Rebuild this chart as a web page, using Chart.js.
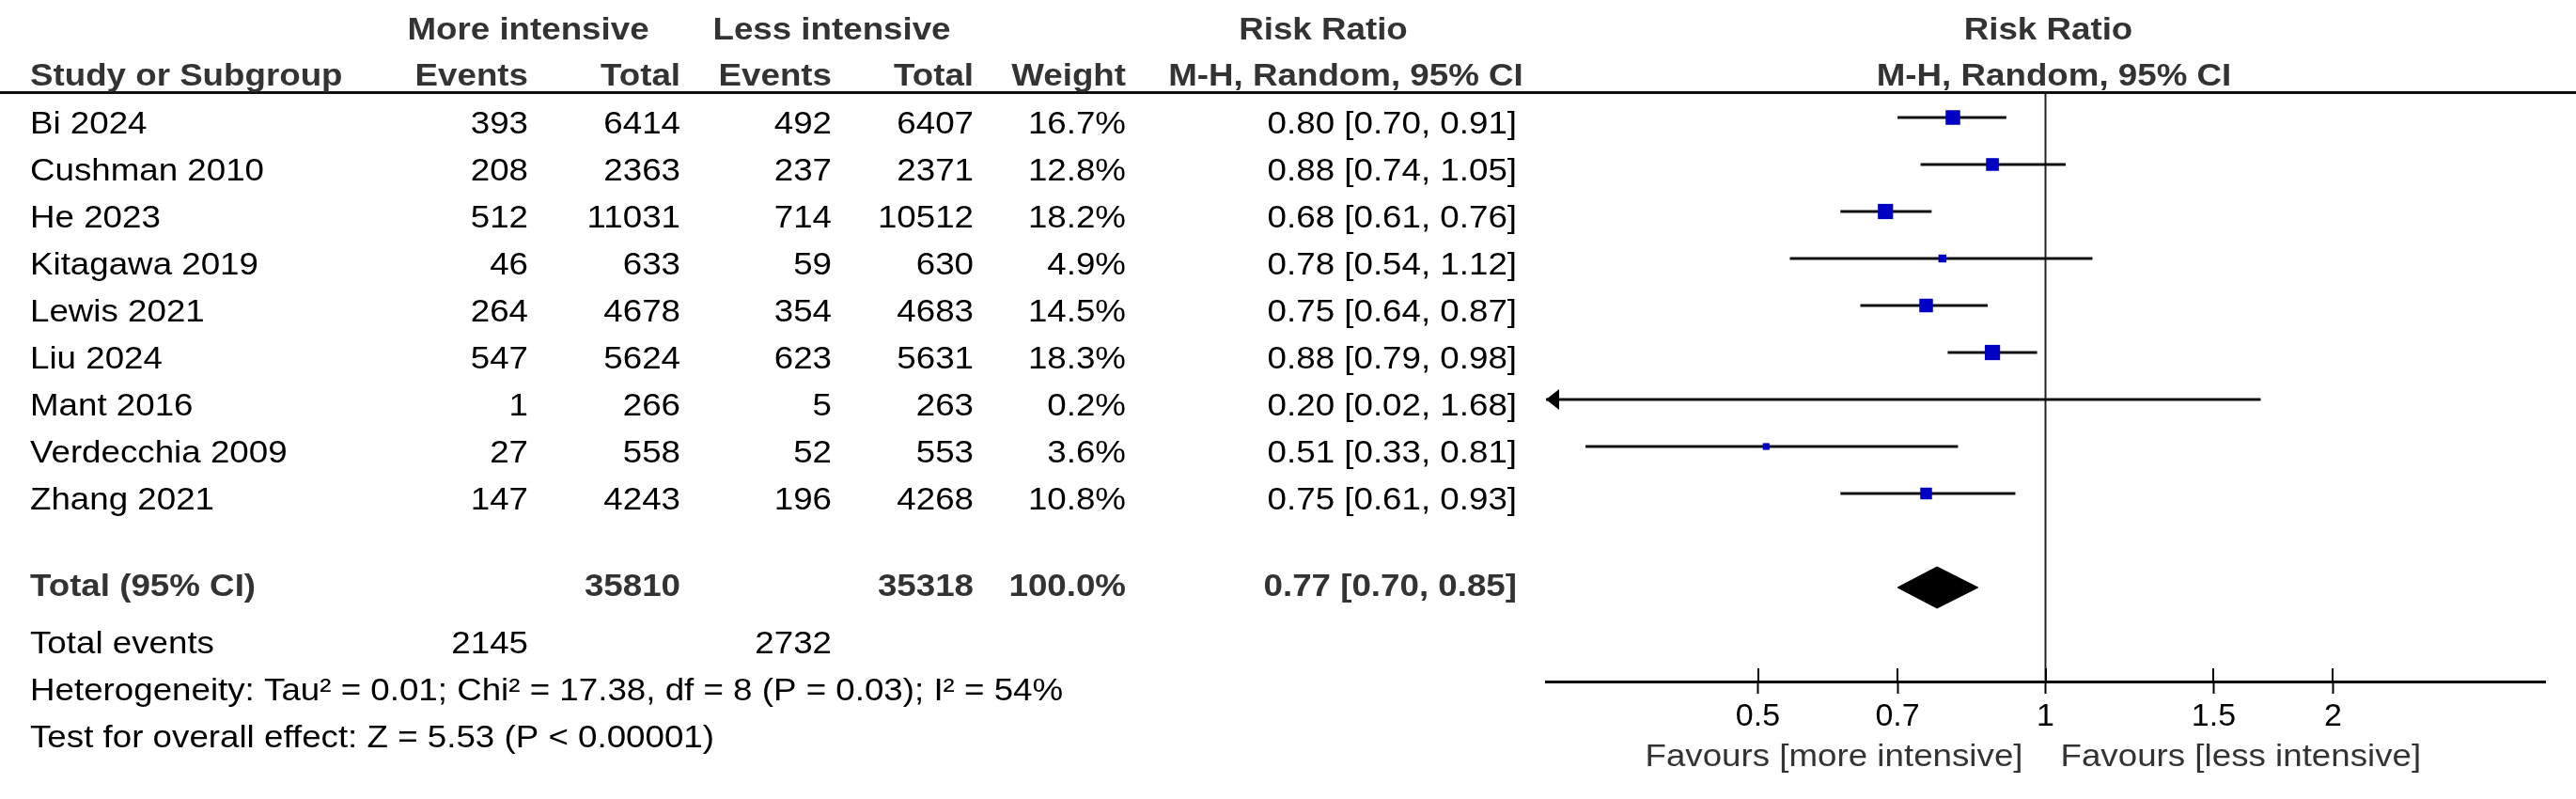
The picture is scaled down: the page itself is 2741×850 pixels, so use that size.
<!DOCTYPE html>
<html><head><meta charset="utf-8">
<style>html,body{margin:0;padding:0;background:#fff;} #wrap{width:2741px;height:850px;position:relative;background:#fff}</style>
<script src="https://cdn.jsdelivr.net/npm/chart.js@4.4.1/dist/chart.umd.min.js"></script>
</head><body><div id="wrap"><canvas id="c" width="2741" height="850"></canvas></div>
<script>
// ---- data ----
const studies = ['Bi 2024','Cushman 2010','He 2023','Kitagawa 2019','Lewis 2021','Liu 2024','Mant 2016','Verdecchia 2009','Zhang 2021'];
const eventsMore = [393,208,512,46,264,547,1,27,147];
const totalMore = [6414,2363,11031,633,4678,5624,266,558,4243];
const eventsLess = [492,237,714,59,354,623,5,52,196];
const totalLess = [6407,2371,10512,630,4683,5631,263,553,4268];
const weights = [16.7,12.8,18.2,4.9,14.5,18.3,0.2,3.6,10.8];
const rr = [0.80,0.88,0.68,0.78,0.75,0.88,0.20,0.51,0.75];
const ciLow = [0.70,0.74,0.61,0.54,0.64,0.79,0.02,0.33,0.61];
const ciHigh = [0.91,1.05,0.76,1.12,0.87,0.98,1.68,0.81,0.93];
const pooledRR = 0.77, pooledLow = 0.70, pooledHigh = 0.85;
const totalWeightLabel = '100.0%';
const tickValues = [0.5,0.7,1,1.5,2];
const tickLabels = ['0.5','0.7','1','1.5','2'];
const headerTop = ['More intensive','Less intensive','Risk Ratio','Risk Ratio'];
const headerBottom = ['Study or Subgroup','Events','Total','Events','Total','Weight','M-H, Random, 95% CI','M-H, Random, 95% CI'];
const totalLabel = 'Total (95% CI)';
const totalEventsLabel = 'Total events';
const heterogeneityText = 'Heterogeneity: Tau² = 0.01; Chi² = 17.38, df = 8 (P = 0.03); I² = 54%';
const overallText = 'Test for overall effect: Z = 5.53 (P < 0.00001)';
const favoursLeft = 'Favours [more intensive]';
const favoursRight = 'Favours [less intensive]';

// ---- layout / style ----
const FONT = "'Liberation Sans', Arial, sans-serif";
const FS = 34, SX = 1.08;
const TOTAL_ROW = studies.length + 1;
const colX = {study:32, evM:562, totM:724, evL:885, totL:1036, w:1198, ci:1614};
const sum = a => a.reduce((p,c)=>p+c,0);
const fmt2 = v => v.toFixed(2);

function txt(ctx, s, x, y, align, bold, color){
  ctx.save();
  ctx.translate(x,y);
  ctx.scale(SX,1);
  ctx.font = (bold?'bold ':'') + FS + 'px ' + FONT;
  ctx.textAlign = align; ctx.textBaseline = 'alphabetic';
  ctx.fillStyle = color;
  ctx.fillText(s,0,0);
  ctx.restore();
}

const tablePlugin = {
  id:'table',
  afterDraw(chart){
    const ctx = chart.ctx, xs = chart.scales.x, ys = chart.scales.y, ca = chart.chartArea;
    const rowY = r => ys.getPixelForValue(r);
    ctx.save();
    // header rule
    ctx.fillStyle = '#111';
    ctx.fillRect(0, 97, chart.width, 3);
    // upper half of tick marks
    ctx.strokeStyle = '#000'; ctx.lineWidth = 2;
    tickValues.forEach(v=>{ const px = Math.round(xs.getPixelForValue(v)); ctx.beginPath(); ctx.moveTo(px, ca.bottom); ctx.lineTo(px, ca.bottom-14); ctx.stroke(); });
    // arrows for CIs beyond the scale
    ctx.fillStyle = '#000';
    studies.forEach((s,i)=>{
      const y = rowY(i);
      if (ciLow[i] < xs.min){ ctx.beginPath(); ctx.moveTo(ca.left, y); ctx.lineTo(ca.left+14, y-11); ctx.lineTo(ca.left+14, y+11); ctx.closePath(); ctx.fill(); }
      if (ciHigh[i] > xs.max){ ctx.beginPath(); ctx.moveTo(ca.right, y); ctx.lineTo(ca.right-14, y-11); ctx.lineTo(ca.right-14, y+11); ctx.closePath(); ctx.fill(); }
    });
    const H = '#333', B = '#000';
    // headers
    const x1 = xs.getPixelForValue(1);
    txt(ctx, headerTop[0], colX.evM, 42, 'center', true, H);
    txt(ctx, headerTop[1], colX.evL, 42, 'center', true, H);
    txt(ctx, headerTop[2], 1408, 42, 'center', true, H);
    txt(ctx, headerTop[3], x1+3, 42, 'center', true, H);
    txt(ctx, headerBottom[0], colX.study, 91, 'left', true, H);
    txt(ctx, headerBottom[1], colX.evM, 91, 'right', true, H);
    txt(ctx, headerBottom[2], colX.totM, 91, 'right', true, H);
    txt(ctx, headerBottom[3], colX.evL, 91, 'right', true, H);
    txt(ctx, headerBottom[4], colX.totL, 91, 'right', true, H);
    txt(ctx, headerBottom[5], colX.w, 91, 'right', true, H);
    txt(ctx, headerBottom[6], 1432, 91, 'center', true, H);
    txt(ctx, headerBottom[7], x1+9, 91, 'center', true, H);
    // study rows
    studies.forEach((s,i)=>{
      const y = rowY(i) + 17;
      txt(ctx, s, colX.study, y, 'left', false, B);
      txt(ctx, String(eventsMore[i]), colX.evM, y, 'right', false, B);
      txt(ctx, String(totalMore[i]), colX.totM, y, 'right', false, B);
      txt(ctx, String(eventsLess[i]), colX.evL, y, 'right', false, B);
      txt(ctx, String(totalLess[i]), colX.totL, y, 'right', false, B);
      txt(ctx, weights[i].toFixed(1)+'%', colX.w, y, 'right', false, B);
      txt(ctx, fmt2(rr[i])+' ['+fmt2(ciLow[i])+', '+fmt2(ciHigh[i])+']', colX.ci, y, 'right', false, B);
    });
    // total row
    let y = rowY(TOTAL_ROW) + 9;
    txt(ctx, totalLabel, colX.study, y, 'left', true, H);
    txt(ctx, String(sum(totalMore)), colX.totM, y, 'right', true, H);
    txt(ctx, String(sum(totalLess)), colX.totL, y, 'right', true, H);
    txt(ctx, totalWeightLabel, colX.w, y, 'right', true, H);
    txt(ctx, fmt2(pooledRR)+' ['+fmt2(pooledLow)+', '+fmt2(pooledHigh)+']', colX.ci, y, 'right', true, H);
    // footer rows
    y = rowY(TOTAL_ROW + 1.08) + 16;
    txt(ctx, totalEventsLabel, colX.study, y, 'left', false, B);
    txt(ctx, String(sum(eventsMore)), colX.evM, y, 'right', false, B);
    txt(ctx, String(sum(eventsLess)), colX.evL, y, 'right', false, B);
    txt(ctx, heterogeneityText, colX.study, rowY(TOTAL_ROW + 2.08) + 16, 'left', false, B);
    txt(ctx, overallText, colX.study, rowY(TOTAL_ROW + 3.08) + 16, 'left', false, B);
    // favours
    txt(ctx, favoursLeft, x1 - 24, 815, 'right', false, H);
    txt(ctx, favoursRight, x1 + 16, 815, 'left', false, H);
    ctx.restore();
  }
};

const ciDatasets = studies.map((s,i)=>({
  type:'line', label:s+' CI',
  data:[{x:ciLow[i], y:i},{x:ciHigh[i], y:i}],
  borderColor:'#111', borderWidth:3, pointRadius:0, fill:false, tension:0, order:2
}));

const chart = new Chart(document.getElementById('c'), {
  type:'scatter',
  data:{
    datasets:[
      { type:'scatter', label:'Risk ratio',
        data: studies.map((s,i)=>({x:rr[i], y:i})),
        pointStyle:'rect', pointRadius: weights.map(w=>Math.sqrt(w)*3.8/Math.SQRT2),
        backgroundColor:'#0000c4', borderWidth:0, order:0 },
      { type:'line', label:'Pooled',
        data:[{x:pooledLow,y:TOTAL_ROW},{x:pooledRR,y:TOTAL_ROW-0.44},{x:pooledHigh,y:TOTAL_ROW},{x:pooledRR,y:TOTAL_ROW+0.44},{x:pooledLow,y:TOTAL_ROW}],
        borderColor:'#000', borderWidth:1, backgroundColor:'#000', fill:'shape', pointRadius:0, tension:0, order:1 },
      ...ciDatasets,
      { type:'line', label:'No effect',
        data:[{x:1,y:-0.5},{x:1,y:12}],
        borderColor:'#222', borderWidth:2, pointRadius:0, fill:false, order:3 }
    ]
  },
  options:{
    responsive:false, animation:false, devicePixelRatio:1,
    layout:{padding:{left:1645, right:33, top:100, bottom:0}},
    plugins:{legend:{display:false}, tooltip:{enabled:false}},
    scales:{
      x:{ type:'logarithmic', min:0.3, max:10/3, position:'bottom',
        border:{display:true, color:'#000', width:3},
        grid:{display:true, drawOnChartArea:false, drawTicks:true, tickLength:13, tickWidth:2, tickColor:'#000'},
        ticks:{autoSkip:false, maxRotation:0, color:'#000', padding:4,
          font:{family:'Liberation Sans', size:34},
          callback:(v)=>{ const i = tickValues.indexOf(v); return i>=0 ? tickLabels[i] : ''; }},
        afterBuildTicks:(s)=>{ s.ticks = tickValues.map(v=>({value:v})); },
        afterFit:(s)=>{ s.height = 125; }
      },
      y:{ type:'linear', min:-0.5, max:12, reverse:true, display:false }
    }
  },
  plugins:[tablePlugin]
});
</script>
</body></html>
